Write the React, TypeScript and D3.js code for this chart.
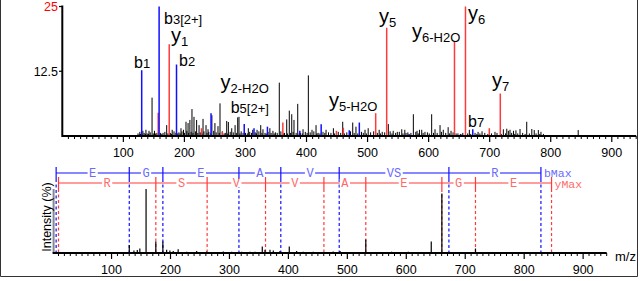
import * as d3 from 'd3';

// top spectrum: annotated fragment peaks [m/z, intensity, type]
const topIonPeaks: [number, number, string][] = [
  [130.05, 12.7, 'b'], [157.1, 4.5, 'y'], [158.56, 25, 'b'], [175.12, 17.7, 'y'],
  [187.07, 13.8, 'b'], [228, 1.5, 'y'], [262.15, 0.8, 'y'], [243.6, 4.4, 'b'],
  [298, 2.3, 'b'], [314, 1.5, 'b'], [336, 1.8, 'b'], [361.22, 2.6, 'y'],
  [389, 1.0, 'b'], [424, 2.25, 'b'], [449, 1.0, 'y'], [460.29, 1.6, 'y'],
  [470, 1.1, 'b'], [486.5, 2.6, 'b'], [513.3, 4.4, 'y'], [531.32, 20.9, 'y'],
  [568, 0.4, 'b'], [642.36, 18.3, 'y'], [654, 0.3, 'b'], [660.37, 25, 'y'],
  [672.32, 1.3, 'b'], [699.4, 1.5, 'y'], [717.39, 8.2, 'y'],
];

// top spectrum: unassigned peaks [m/z, intensity]
const topOtherPeaks: [number, number][] = [
  [127, 0.8], [132, 1.0], [137, 1.2], [142, 1.0], [147, 7.4], [151, 1.0], [165, 0.6],
  [171, 2.1], [180, 1.2], [194.4, 1.5], [198.5, 1.2], [202.6, 2.75], [206, 2.5],
  [209, 3.1], [212.4, 5.2], [215.7, 3.7], [220, 3.1], [224, 2.1], [230.5, 3.3],
  [235.4, 2.1], [238.7, 1.3], [245, 4.0], [250, 2.5], [255, 1.9], [258.3, 6.3],
  [269.3, 2.9], [272, 2.7], [277.5, 1.5], [283, 2.1], [287.3, 3.6], [289.4, 3.7],
  [304.7, 1.5], [311.9, 1.2], [319, 1.2], [325, 2.1], [328.7, 1.3], [340, 1.5],
  [345, 1.0], [355.4, 10.3], [367.6, 3.2], [371.8, 4.9], [375.8, 4.2], [379.5, 3.1],
  [385.6, 6.2], [394.3, 1.3], [403, 11.7], [409, 1.2], [415.6, 2.1], [432, 1.2],
  [444, 1.5], [459.3, 2.75], [475.7, 2.6], [481, 1.8], [495.8, 1.2], [501, 1.5],
  [519, 1.2], [534, 2.3], [542, 1.0], [548.7, 0.8], [556, 1.3], [561, 1.2],
  [575, 4.2], [581, 1.0], [585, 1.2], [588.7, 1.2], [594, 0.8], [605, 4.2],
  [610.5, 1.3], [618.7, 2.1], [624, 1.2], [632, 1.7], [636.7, 1.0], [666.7, 1.2],
  [681, 0.8], [687.5, 0.9], [708.7, 0.8], [722.4, 1.3], [728, 1.4], [730.6, 1.0],
  [733.3, 1.2], [739, 1.0], [743, 1.1], [749.7, 1.35], [760.7, 2.75], [769, 1.35],
  [773, 1.15], [779.7, 1.15], [784, 0.8], [845, 1.15],
];

// top spectrum: low-level noise [m/z, intensity]
const topNoise: [number, number][] = [
  [124, 0.5], [126, 0.3], [128, 0.4], [131, 0.3], [134, 0.6], [136, 0.4], [139, 0.5],
  [141, 0.4], [144, 0.7], [149, 0.5], [153, 0.5], [155, 0.6], [161, 0.6], [163, 0.4],
  [168, 0.8], [173, 0.5], [177, 0.6], [179, 0.4], [183, 0.9], [186, 0.6], [189, 0.5],
  [191, 0.7], [193, 0.5], [196, 0.9], [200, 0.6], [204, 1.0], [207, 0.6], [211, 0.8],
  [214, 0.6], [218, 0.9], [222, 0.6], [226, 0.7], [229, 0.5], [232, 0.9], [237, 0.6],
  [240, 0.8], [243, 0.5], [248, 1.0], [252, 0.7], [257, 0.6], [262, 0.9], [265, 0.5],
  [267, 0.6], [271, 0.5], [275, 0.8], [280, 0.7], [285, 0.6], [291, 0.5], [293, 0.9],
  [296, 0.6], [300, 0.6], [303, 0.5], [307, 0.8], [310, 0.6], [316, 0.7], [318, 0.5],
  [322, 0.9], [327, 0.6], [332, 0.6], [334, 0.5], [337, 0.8], [342, 0.6], [347, 0.5],
  [349, 0.7], [352, 0.6], [358, 0.9], [362, 0.5], [364, 0.6], [369, 0.5], [374, 0.6],
  [378, 0.8], [383, 0.6], [388, 0.5], [390, 0.6], [393, 0.5], [398, 0.8], [401, 0.6],
  [406, 0.7], [412, 0.9], [417, 0.5], [419, 0.6], [422, 0.5], [427, 0.8], [430, 0.6],
  [436, 0.7], [440, 0.6], [446, 0.5], [452, 0.8], [456, 0.6], [462, 0.5], [466, 0.7],
  [472, 0.9], [478, 0.6], [484, 0.5], [490, 0.8], [493, 0.6], [498, 0.5], [505, 0.7],
  [510, 0.9], [516, 0.6], [521, 0.5], [524, 0.8], [528, 0.7], [537, 0.9], [540, 0.5],
  [546, 0.6], [552, 0.8], [558, 0.5], [563, 0.6], [566, 0.7], [571, 0.6], [579, 0.8],
  [583, 0.5], [591, 0.6], [598, 0.7], [601, 0.5], [608, 0.6], [614, 0.6], [621, 0.8],
  [628, 0.6], [634, 0.5], [640, 0.7], [645, 0.5], [648, 0.5], [652, 0.4], [656, 0.6],
  [664, 0.5], [669, 0.4], [676, 0.6], [679, 0.4], [684, 0.5], [692, 0.6], [697, 0.4],
  [703, 0.5], [712, 0.6], [719, 0.4], [726, 0.5], [736, 0.6], [741, 0.4], [746, 0.5],
  [754, 0.6], [758, 0.4], [765, 0.5], [776, 0.5], [782, 0.4], [788, 0.4],
];

// bottom spectrum [m/z, intensity %]
const bottomPeaks: [number, number][] = [
  [130.05, 12.5], [138, 4], [143.7, 4.5], [148, 7], [158.56, 100], [175.12, 18],
  [187.07, 18], [193.5, 5], [199, 4], [204.7, 3], [213, 6], [227.5, 2], [244.4, 3],
  [261.4, 2.5], [289.6, 2.5], [303.8, 2], [320.8, 2], [334.9, 2], [343.4, 2],
  [355.7, 10], [360.3, 5], [368.8, 5], [374.4, 4], [385.7, 3], [401.5, 10], [414, 3],
  [425.3, 2], [442.2, 2], [476, 2.5], [487.7, 3], [531.32, 21], [575, 2], [603.4, 2],
  [642.36, 18], [660.37, 93], [674, 1.5], [717.39, 7],
];

const bIonMz = [6, 130.05, 187.07, 316.11, 387.15, 486.22, 672.32, 828.42];
const bResidues = ['E', 'G', 'E', 'A', 'V', 'VS', 'R'];
const yIonMz = [10, 175.12, 262.15, 361.22, 460.29, 531.32, 660.37, 717.39, 846.43];
const yResidues = ['R', 'S', 'V', 'V', 'A', 'E', 'G', 'E'];

const xTickValues = [100, 200, 300, 400, 500, 600, 700, 800, 900];
const yTickValues = [12.5, 25];

// peak annotations: [ion letter, index text, x, baseline y]
const peakLabels: [string, string, number, number][] = [
  ['b', '1', 134, 67.7],
  ['b', '3[2+]', 164, 24],
  ['y', '1', 171, 42],
  ['b', '2', 179, 66],
  ['y', '2-H2O', 220.5, 89],
  ['b', '5[2+]', 230.7, 113.3],
  ['y', '5-H2O', 329, 106.5],
  ['y', '5', 379, 23],
  ['y', '6-H2O', 412, 38.3],
  ['y', '6', 468, 20],
  ['y', '7', 492, 86.5],
  ['b', '7', 468, 127.3],
];

const BLUE = '#1010ff';
const RED = '#ff3a3a';
const SANS = 'Arial, "Liberation Sans", Helvetica, sans-serif';
const MONO = '"Liberation Mono", "DejaVu Sans Mono", monospace';

export default function App() {
  const width = 640;
  const height = 281;

  const xTop = d3.scaleLinear().domain([0, 940]).range([62.3, 636.2]);
  const yTop = d3.scaleLinear().domain([0, 25]).range([136, 6.5]);
  const xBot = d3.scaleLinear().domain([0, 940]).range([52.6, 606.7]);
  const yBot = d3.scaleLinear().domain([0, 100]).range([253, 189]);

  const minorTicks = d3.range(10, 941, 10).filter(v => v % 100 !== 0);

  const bLineY = 173;
  const yLineY = 183;

  const seqLabel = (
    letters: string[],
    pos: number[],
    lineY: number,
    color: string,
    key: string
  ) =>
    letters.map((s, i) => {
      const cx = (xBot(pos[i]) + xBot(pos[i + 1])) / 2;
      const w = s.length * 7.2 + 3;
      return (
        <g key={key + i}>
          <rect x={cx - w / 2} y={lineY - 4} width={w} height={8} fill="#fff" />
          <text x={cx} y={lineY + 4} textAnchor="middle" fontFamily={MONO} fontSize={12} fill={color}>
            {s}
          </text>
        </g>
      );
    });

  return (
    <svg
      width={width}
      height={height}
      style={{ position: 'absolute', left: 0, top: 0, background: '#fff' }}
    >
      {/* frame */}
      <path d="M0.5,0 V276.5 H637.5 V0" fill="none" stroke="#333" strokeWidth={1} />

      {/* ---------- top spectrum ---------- */}
      {topNoise.map(([m, v], i) => (
        <line key={'n' + i} x1={xTop(m)} x2={xTop(m)} y1={yTop(0)} y2={yTop(v)} stroke="#000" strokeWidth={1} />
      ))}
      {topOtherPeaks.map(([m, v], i) => (
        <line key={'o' + i} x1={xTop(m)} x2={xTop(m)} y1={yTop(0)} y2={yTop(v)} stroke="#000" strokeWidth={1} />
      ))}
      {topIonPeaks.map(([m, v, t], i) => (
        <line
          key={'p' + i}
          x1={xTop(m)}
          x2={xTop(m)}
          y1={yTop(0)}
          y2={yTop(v)}
          stroke={t === 'b' ? BLUE : RED}
          strokeWidth={1.5}
        />
      ))}

      {/* top axes */}
      <line x1={xTop(0)} x2={xTop(940)} y1={136} y2={136} stroke="#000" strokeWidth={2} />
      <line x1={62.3} x2={62.3} y1={yTop(25) - 1} y2={137} stroke="#000" strokeWidth={2} />
      {minorTicks.map(v => (
        <line key={'tm' + v} x1={xTop(v)} x2={xTop(v)} y1={136} y2={139} stroke="#000" strokeWidth={1} />
      ))}
      {xTickValues.map(v => (
        <g key={'tx' + v}>
          <line x1={xTop(v)} x2={xTop(v)} y1={136} y2={142} stroke="#000" strokeWidth={1.2} />
          <text x={xTop(v)} y={157} textAnchor="middle" fontFamily={SANS} fontSize={12.5}>
            {v}
          </text>
        </g>
      ))}
      {yTickValues.map(v => (
        <g key={'ty' + v}>
          <line x1={59} x2={62.3} y1={yTop(v)} y2={yTop(v)} stroke="#000" strokeWidth={1.2} />
          <text
            x={58}
            y={yTop(v) + 4.5}
            textAnchor="end"
            fontFamily={SANS}
            fontSize={12.5}
            fill={v === 25 ? '#ff0000' : '#000'}
          >
            {v}
          </text>
        </g>
      ))}

      {/* peak annotations */}
      {peakLabels.map(([ion, idx, x, y], i) =>
        ion === 'y' ? (
          <text key={'l' + i} x={x} y={y} fontFamily={SANS} fill="#000">
            <tspan fontSize={20}>y</tspan>
            <tspan fontSize={13} dy={4}>{idx}</tspan>
          </text>
        ) : (
          <text key={'l' + i} x={x} y={y} fontFamily={SANS} fill="#000">
            <tspan fontSize={16}>b</tspan>
            <tspan fontSize={13}>{idx}</tspan>
          </text>
        )
      )}

      {/* ---------- bottom spectrum ---------- */}
      <line x1={xBot(0) + 1} x2={xBot(0) + 1} y1={189} y2={253} stroke="#888" strokeWidth={2} />

      {/* ion ladders */}
      {bIonMz.map((m, i) => (
        <g key={'bd' + i}>
          <line x1={xBot(m)} x2={xBot(m)} y1={bLineY + 6} y2={253} stroke={BLUE} strokeWidth={1.2} strokeDasharray="3,2.5" />
          <line x1={xBot(m)} x2={xBot(m)} y1={bLineY - 6} y2={bLineY + 6} stroke={BLUE} strokeWidth={1.2} />
        </g>
      ))}
      {yIonMz.map((m, i) => (
        <g key={'yd' + i}>
          <line x1={xBot(m)} x2={xBot(m)} y1={yLineY + 6} y2={253} stroke={RED} strokeWidth={1.2} strokeDasharray="3,2.5" />
          <line x1={xBot(m)} x2={xBot(m)} y1={yLineY - 6} y2={yLineY + 6} stroke={RED} strokeWidth={1.2} />
        </g>
      ))}
      <line x1={xBot(bIonMz[0])} x2={xBot(bIonMz[bIonMz.length - 1])} y1={bLineY} y2={bLineY} stroke={BLUE} strokeWidth={1.2} />
      <line x1={xBot(yIonMz[0])} x2={xBot(yIonMz[yIonMz.length - 1])} y1={yLineY} y2={yLineY} stroke={RED} strokeWidth={1.2} />
      {seqLabel(bResidues, bIonMz, bLineY, '#6a6aff', 'bs')}
      {seqLabel(yResidues, yIonMz, yLineY, '#ff6a6a', 'ys')}
      <text x={xBot(bIonMz[bIonMz.length - 1]) + 3} y={bLineY + 3.5} fontFamily={MONO} fontSize={11.5} fill="#6a6aff">
        bMax
      </text>
      <text x={xBot(yIonMz[yIonMz.length - 1]) + 3} y={yLineY + 4.5} fontFamily={MONO} fontSize={11.5} fill="#ff6a6a">
        yMax
      </text>

      {bottomPeaks.map(([m, v], i) => (
        <line key={'bp' + i} x1={xBot(m)} x2={xBot(m)} y1={yBot(0)} y2={yBot(v)} stroke="#000" strokeWidth={1.2} />
      ))}

      {/* bottom axis */}
      <line x1={xBot(0)} x2={xBot(940)} y1={253} y2={253} stroke="#000" strokeWidth={2} />
      {minorTicks.map(v => (
        <line key={'bm' + v} x1={xBot(v)} x2={xBot(v)} y1={253} y2={256} stroke="#000" strokeWidth={1} />
      ))}
      {xTickValues.map(v => (
        <g key={'bx' + v}>
          <line x1={xBot(v)} x2={xBot(v)} y1={253} y2={259} stroke="#000" strokeWidth={1.2} />
          <text x={xBot(v)} y={274} textAnchor="middle" fontFamily={SANS} fontSize={12.5}>
            {v}
          </text>
        </g>
      ))}
      <text x={615} y={261} fontFamily={SANS} fontSize={13}>
        m/z
      </text>
      <text
        transform="translate(51,217) rotate(-90)"
        textAnchor="middle"
        fontFamily={SANS}
        fontSize={12.5}
      >
        Intensity (%)
      </text>
    </svg>
  );
}
